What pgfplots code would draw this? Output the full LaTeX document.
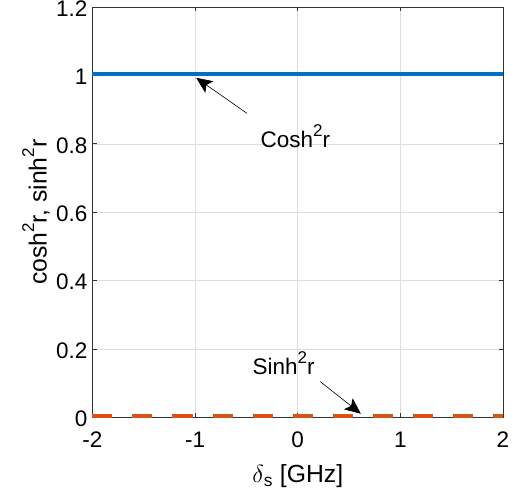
\documentclass[border=0pt]{standalone}
\usepackage{fontspec}
\setmainfont{Liberation Sans}
\usepackage{pgfplots}
\pgfplotsset{compat=1.18}
\usetikzlibrary{arrows.meta}

\definecolor{mblue}{RGB}{0,114,189}
\definecolor{morange}{RGB}{217,83,25}

% MATLAB-like superscript 2: fairly large and raised high
\newcommand{\sq}{\raisebox{0.5em}{\fontsize{17bp}{20bp}\selectfont 2}}

\begin{document}
\begin{tikzpicture}[font=\fontsize{22.5bp}{27bp}\selectfont]
  \useasboundingbox (-92.5bp,-84.3bp) rectangle (435.5bp,417.5bp);
  \begin{axis}[
    at={(0,0)}, anchor=south west,
    scale only axis,
    width=410.5bp, height=410.5bp,
    xmin=-2, xmax=2, ymin=0, ymax=1.2,
    xtick={-2,-1,0,1,2},
    ytick={0,0.2,0.4,0.6,0.8,1,1.2},
    /pgf/number format/assume math mode=true,
    grid=major,
    grid style={black!13, line width=0.6bp},
    axis line style={black!80, line width=0.8bp},
    tick style={black!80, line width=0.8bp},
    tick align=inside, tick pos=both,
    major tick length=4.5bp,
    xticklabel style={yshift=-11bp},
    yticklabel style={xshift=-1.5bp, yshift=-1.5bp},
    xlabel={$\delta$\textsubscript{s} [GHz]},
    ylabel={cosh\sq r, sinh\sq r},
    label style={font=\fontsize{24.75bp}{29bp}\selectfont},
    xlabel style={at={(axis description cs:0.5,-0.159)}, anchor=base},
    ylabel style={at={(axis description cs:-0.112,0.5)}, anchor=base},
    clip=false,
  ]
    % cosh^2 r
    \addplot[mblue, line width=4.5bp] coordinates {
      (-2,1.004) (-1,1.004) (0,1.004) (1,1.004) (2,1.004)
    };
    % sinh^2 r
    \addplot[morange, line width=4.3bp, dash pattern=on 20bp off 20bp] coordinates {
      (-2,0.004) (-1,0.004) (0,0.004) (1,0.004) (2,0.004)
    };

    \draw[-{Stealth[length=16bp,width=14bp,inset=3.5bp]}, line width=0.6bp]
      (axis cs:-0.494,0.889) -- (axis cs:-0.99,0.993);
    \node[anchor=base] at (axis cs:-0.024,0.788) {Cosh\sq r};

    \draw[-{Stealth[length=16bp,width=14bp,inset=3.5bp]}, line width=0.6bp]
      (axis cs:0.219,0.105) -- (axis cs:0.615,0.011);
    \node[anchor=base] at (axis cs:-0.138,0.125) {Sinh\sq r};
  \end{axis}
\end{tikzpicture}
\end{document}
